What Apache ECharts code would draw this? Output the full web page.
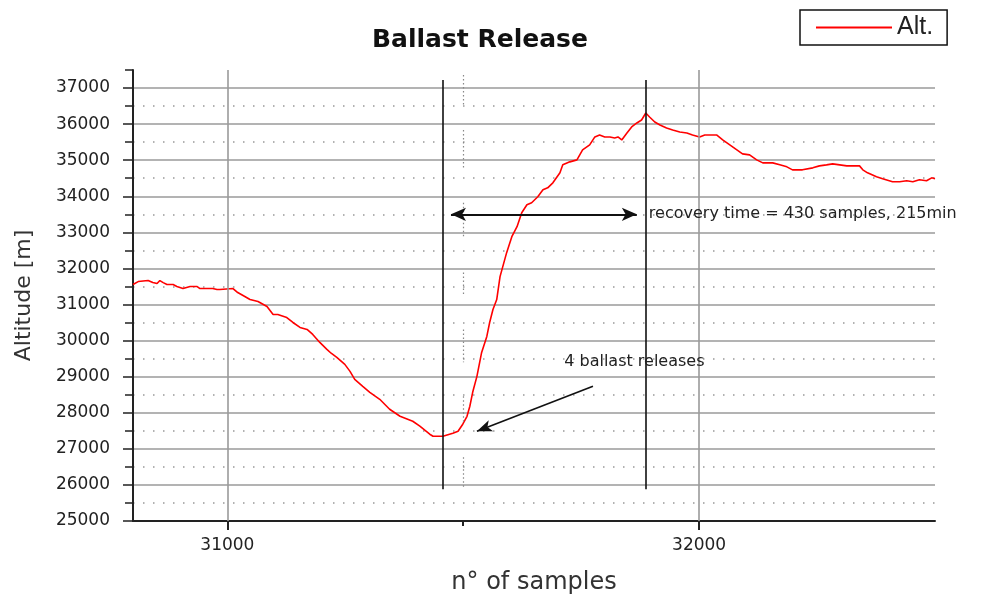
<!DOCTYPE html>
<html>
<head>
<meta charset="utf-8">
<title>Ballast Release</title>
<script src="https://cdn.jsdelivr.net/npm/echarts@6/dist/echarts.min.js"></script>
<style>
  html, body { margin: 0; padding: 0; background: #fff; }
  #main { width: 1004px; height: 600px; }
</style>
</head>
<body>
<div id="main"></div>
<script>
// sample number (x) and altitude in metres (y)
var samples = [30800, 30811, 30815, 30832, 30842, 30851, 30857, 30864, 30872, 30885,
  30893, 30906, 30921, 30936, 30942, 30969, 30978, 30984, 31012, 31022,
  31037, 31048, 31065, 31084, 31097, 31107, 31126, 31139, 31154, 31169,
  31181, 31196, 31211, 31220, 31232, 31249, 31260, 31270, 31287, 31302,
  31323, 31344, 31366, 31393, 31408, 31429, 31436, 31457, 31478, 31489,
  31499, 31508, 31514, 31520, 31529, 31539, 31550, 31556, 31563, 31571,
  31578, 31592, 31603, 31614, 31624, 31635, 31645, 31658, 31669, 31679,
  31690, 31705, 31711, 31726, 31741, 31753, 31768, 31779, 31789, 31800,
  31811, 31821, 31828, 31836, 31847, 31857, 31868, 31878, 31887, 31895,
  31906, 31917, 31931, 31944, 31959, 31974, 31986, 32001, 32012, 32037,
  32050, 32065, 32080, 32092, 32107, 32122, 32135, 32156, 32171, 32186,
  32198, 32219, 32241, 32255, 32270, 32283, 32313, 32340, 32347, 32357,
  32376, 32389, 32410, 32425, 32440, 32453, 32467, 32482, 32493, 32500];
var altitude = [31553, 31636, 31691, 31664, 31608, 31581, 31664, 31608, 31553, 31553,
  31498, 31442, 31498, 31498, 31442, 31442, 31415, 31415, 31442, 31332,
  31221, 31138, 31083, 30945, 30723, 30723, 30640, 30502, 30364, 30309,
  30170, 29949, 29756, 29650, 29534, 29341, 29147, 28926, 28733, 28567,
  28373, 28097, 27903, 27765, 27627, 27405, 27350, 27350, 27433, 27488,
  27682, 27903, 28180, 28567, 29009, 29673, 30115, 30502, 30862, 31138,
  31774, 32438, 32880, 33157, 33544, 33765, 33820, 33986, 34180, 34235,
  34373, 34650, 34871, 34954, 35009, 35286, 35424, 35645, 35700, 35645,
  35645, 35617, 35645, 35562, 35756, 35922, 36032, 36115, 36309, 36198,
  36060, 35977, 35894, 35839, 35783, 35756, 35700, 35645, 35700, 35700,
  35562, 35424, 35286, 35175, 35147, 35009, 34926, 34926, 34871, 34816,
  34733, 34733, 34788, 34843, 34871, 34899, 34843, 34843, 34733, 34650,
  34539, 34484, 34401, 34401, 34429, 34401, 34456, 34429, 34511, 34484];

var xTicks = [31000, 32000];
var xMinorTicks = [31500];
var yTicks = [25000, 26000, 27000, 28000, 29000, 30000, 31000, 32000, 33000, 34000, 35000, 36000, 37000];

// annotation positions (data units)
var releaseStart = 31457;
var releaseEnd = 31887;
var arrowLevel = 33500;
var arrowFrom = 31474;
var arrowTo = 31868;
var recoveryText = 'recovery time = 430 samples, 215min';
var ballastText = '4 ballast releases';
// dotted marker at 31500 drawn in pieces, as in the original
var dottedPieces = [[37360, 36480], [35840, 34730], [33820, 32880], [31890, 31220],
  [30310, 29400], [28460, 27740], [26770, 25880]];

var data = samples.map(function (s, i) { return [s, altitude[i]]; });

var FONT = 'DejaVu Sans';
var grayLine = { color: '#9a9a9a', width: 1.6, type: 'solid' };
var blackLine = { color: '#111', width: 1.6, type: 'solid' };
var plain = function (v) { return String(v); };

var marks = [];
xTicks.forEach(function (v) {
  marks.push({ xAxis: v, lineStyle: grayLine, symbol: 'none' });
});
[releaseStart, releaseEnd].forEach(function (v) {
  marks.push([{ coord: [v, 37220], symbol: 'none' }, { coord: [v, 25880], symbol: 'none', lineStyle: blackLine }]);
});
dottedPieces.forEach(function (p) {
  marks.push([{ coord: [31500, p[0]], symbol: 'none' },
    { coord: [31500, p[1]], symbol: 'none', lineStyle: { color: '#888', width: 1.2, type: [1.5, 2.5] } }]);
});
marks.push([
  { coord: [arrowFrom, arrowLevel], symbol: 'arrow', symbolSize: [10, 15] },
  { coord: [arrowTo, arrowLevel], symbol: 'arrow', symbolSize: [10, 15],
    lineStyle: { color: '#111', width: 2, type: 'solid' },
    label: { show: true, position: 'end', distance: 12, formatter: recoveryText,
      color: '#222', fontFamily: FONT, fontSize: 16 } }
]);
marks.push([
  { coord: [31775, 28735], symbol: 'none' },
  { coord: [31529, 27490], symbol: 'arrow', symbolSize: [9, 15],
    lineStyle: { color: '#111', width: 1.6, type: 'solid' } }
]);

var dom = document.getElementById('main');
var myChart = echarts.init(dom, null, { renderer: 'canvas' });
var option = {
  animation: false,
  backgroundColor: '#fff',
  title: {
    text: 'Ballast Release',
    left: 367,
    top: 23,
    textStyle: { fontFamily: FONT, fontWeight: 'bold', fontSize: 25, color: '#111' }
  },
  legend: {
    data: ['Alt.'],
    left: 800,
    top: 10,
    padding: [5, 14, 5, 15],
    itemWidth: 76,
    itemHeight: 14,
    borderColor: '#111',
    borderWidth: 1.5,
    itemStyle: { opacity: 0 },
    textStyle: { fontFamily: 'Liberation Sans', fontSize: 25, color: '#222' }
  },
  grid: { left: 133, right: 69, top: 70, bottom: 78, containLabel: false },
  xAxis: [{
    type: 'value',
    min: 30800,
    max: 32500,
    name: 'n° of samples',
    nameLocation: 'middle',
    nameGap: 50,
    nameTextStyle: { fontFamily: FONT, fontSize: 24, color: '#333' },
    axisLine: { lineStyle: { color: '#222', width: 2 } },
    axisTick: { customValues: xTicks, length: 9, lineStyle: { color: '#222', width: 2 } },
    axisLabel: { customValues: xTicks, margin: 16, formatter: plain, fontFamily: FONT, fontSize: 17, color: '#222' },
    splitLine: { show: false }
  }, {
    type: 'value',
    position: 'bottom',
    min: 30800,
    max: 32500,
    axisLine: { show: false },
    axisTick: { customValues: xMinorTicks, length: 5, lineStyle: { color: '#222', width: 2 } },
    axisLabel: { show: false },
    splitLine: { show: false }
  }],
  yAxis: [{
    type: 'value',
    min: 25000,
    max: 37500,
    interval: 1000,
    name: 'Altitude [m]',
    nameLocation: 'middle',
    nameGap: 98,
    nameTextStyle: { fontFamily: FONT, fontSize: 22, color: '#333' },
    axisLine: { show: true, lineStyle: { color: '#222', width: 2 } },
    axisTick: { show: true, customValues: yTicks, length: 10, lineStyle: { color: '#222', width: 1.5 } },
    axisLabel: { customValues: yTicks, margin: 23, formatter: plain, fontFamily: FONT, fontSize: 17, color: '#222' },
    splitLine: { show: true, showMinLine: false, showMaxLine: true, lineStyle: grayLine }
  }, {
    type: 'value',
    position: 'left',
    min: 25000,
    max: 37500,
    interval: 500,
    axisLine: { show: false },
    axisTick: { show: true, length: 8, lineStyle: { color: '#222', width: 1.5 } },
    axisLabel: { show: false },
    splitLine: {
      show: true, showMinLine: false, showMaxLine: false,
      lineStyle: { color: ['#999999', 'rgba(0,0,0,0)'], width: 1.5, type: [1.5, 8.5] }
    }
  }],
  series: [{
    name: 'Alt.',
    type: 'line',
    xAxisIndex: 0,
    yAxisIndex: 0,
    symbol: 'none',
    data: data,
    lineStyle: { color: '#ff0000', width: 1.6 },
    itemStyle: { color: '#ff0000' },
    markLine: {
      silent: true,
      symbol: 'none',
      label: { show: false },
      lineStyle: { color: '#111', width: 1.6, type: 'solid' },
      data: marks
    },
    markPoint: {
      silent: true,
      data: [{
        coord: [31713, 29425],
        symbol: 'circle',
        symbolSize: 1,
        itemStyle: { color: 'rgba(0,0,0,0)' },
        label: { show: true, position: 'right', distance: 0, formatter: ballastText,
          color: '#222', fontFamily: FONT, fontSize: 16 }
      }]
    }
  }]
};
if (option && typeof option === 'object') {
  myChart.setOption(option, true);
}
</script>
</body>
</html>
